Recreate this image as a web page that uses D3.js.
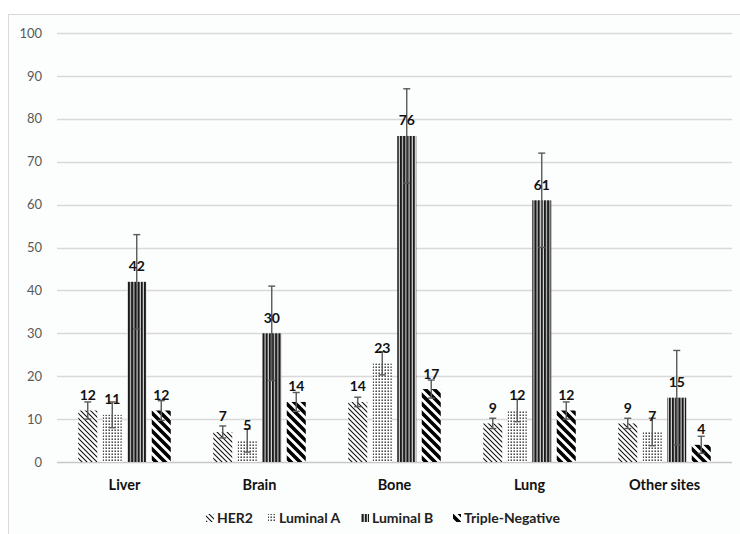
<!DOCTYPE html>
<html>
<head>
<meta charset="utf-8">
<script src="https://cdn.jsdelivr.net/npm/d3@7"></script>
<style>
  html, body { margin: 0; padding: 0; background: #ffffff; }
  svg { display: block; }
</style>
</head>
<body>
<div id="chart"></div>
<script>
// ---- Data ----
const categories = ["Liver", "Brain", "Bone", "Lung", "Other sites"];
const seriesNames = ["HER2", "Luminal A", "Luminal B", "Triple-Negative"];
const her2Values = [12, 7, 14, 9, 9];
const luminalAValues = [11, 5, 23, 12, 7];
const luminalBValues = [42, 30, 76, 61, 15];
const tripleNegValues = [12, 14, 17, 12, 4];
const her2Err = [2, 1.4, 1.1, 1.2, 1.2];
const luminalAErr = [3, 2.7, 2.7, 2.6, 3.2];
const luminalBErr = [11, 11, 11, 11, 11];
const tripleNegErr = [2.3, 2.2, 2.1, 2, 2];
const yTicks = [0, 10, 20, 30, 40, 50, 60, 70, 80, 90, 100];

const seriesValues = [her2Values, luminalAValues, luminalBValues, tripleNegValues];
const seriesErrors = [her2Err, luminalAErr, luminalBErr, tripleNegErr];
const patternIds = ["pHer2", "pLumA", "pLumB", "pTN"];

const W = 740, H = 534;
const svg = d3.select("#chart").append("svg").attr("width", W).attr("height", H);

// patterns
const defs = svg.append("defs");
{
  const p = defs.append("pattern").attr("id", "pHer2").attr("patternUnits", "userSpaceOnUse")
    .attr("width", 5).attr("height", 5);
  p.append("rect").attr("width", 5).attr("height", 5).attr("fill", "#fff");
  p.append("path").attr("d", "M0,0 L5,5 M-1,4 L1,6 M4,-1 L6,1")
    .attr("stroke", "#111").attr("stroke-width", 1.1);
}
{
  const p = defs.append("pattern").attr("id", "pLumA").attr("patternUnits", "userSpaceOnUse")
    .attr("width", 3).attr("height", 3);
  p.append("rect").attr("width", 3).attr("height", 3).attr("fill", "#fff");
  p.append("rect").attr("x", 0.5).attr("y", 0.5).attr("width", 1.4).attr("height", 1.4).attr("fill", "#222");
}
{
  const p = defs.append("pattern").attr("id", "pLumB").attr("patternUnits", "userSpaceOnUse")
    .attr("width", 3.2).attr("height", 4);
  p.append("rect").attr("width", 3.2).attr("height", 4).attr("fill", "#ddd");
  p.append("rect").attr("x", 0).attr("width", 2.1).attr("height", 4).attr("fill", "#1a1a1a");
}
{
  const p = defs.append("pattern").attr("id", "pTN").attr("patternUnits", "userSpaceOnUse")
    .attr("width", 9).attr("height", 9);
  p.append("rect").attr("width", 9).attr("height", 9).attr("fill", "#fff");
  p.append("path").attr("d", "M0,0 L9,9 M-2,7 L2,11 M7,-2 L11,2")
    .attr("stroke", "#000").attr("stroke-width", 3.6);
}

// background + border
svg.append("rect").attr("x", 0).attr("y", 0).attr("width", W).attr("height", H).attr("fill", "#fff");
svg.append("rect").attr("x", 8.5).attr("y", 14.5).attr("width", 740).attr("height", 540)
  .attr("fill", "#fcfdfd").attr("stroke", "#d9d9d9").attr("stroke-width", 1);

const x0 = 57, x1 = 732, yTop = 33, yBot = 462;

const x = d3.scaleBand().domain(categories).range([x0, x1]).paddingInner(0).paddingOuter(0);
const y = d3.scaleLinear().domain([0, 100]).range([yBot, yTop]);

// gridlines
svg.append("g").selectAll("line").data(yTicks).join("line")
  .attr("x1", x0).attr("x2", x1)
  .attr("y1", d => Math.round(y(d)) + 0.5).attr("y2", d => Math.round(y(d)) + 0.5)
  .attr("stroke", d => d === 0 ? "#c8c8c8" : "#d9d9d9").attr("stroke-width", 1.3);

// y tick labels via axis
const yAxis = d3.axisLeft(y).tickValues(yTicks).tickSize(0).tickPadding(0);
const gy = svg.append("g").attr("transform", "translate(42,0)").call(yAxis);
gy.select(".domain").remove();
gy.selectAll("text").attr("font-family", "Lato, 'Open Sans', sans-serif").attr("font-size", 13)
  .attr("fill", "#595959");

// bars
const barW = 19, barStep = 24.5;
const groupW = barStep * 3 + barW;

categories.forEach((cat, ci) => {
  const gx = x(cat) + x.bandwidth() / 2 - groupW / 2;
  seriesNames.forEach((s, si) => {
    const v = seriesValues[si][ci];
    const e = seriesErrors[si][ci];
    const bx = gx + si * barStep;
    svg.append("rect")
      .attr("x", bx).attr("y", y(v)).attr("width", barW).attr("height", y(0) - y(v))
      .attr("fill", `url(#${patternIds[si]})`);
    const cx = bx + barW / 2;
    const eb = svg.append("g").attr("stroke", "#595959").attr("stroke-width", 1.4);
    eb.append("line").attr("x1", cx).attr("x2", cx).attr("y1", y(v + e)).attr("y2", y(v - e));
    eb.append("line").attr("x1", cx - 3.5).attr("x2", cx + 3.5).attr("y1", y(v + e)).attr("y2", y(v + e));
    eb.append("line").attr("x1", cx - 3.5).attr("x2", cx + 3.5).attr("y1", y(v - e)).attr("y2", y(v - e));
    svg.append("text").attr("x", cx).attr("y", y(v) - 10.5)
      .attr("text-anchor", "middle").attr("font-family", "Lato, 'Open Sans', sans-serif")
      .attr("font-weight", "bold").attr("font-size", 14).attr("fill", "#111").text(v);
  });
});

// category axis labels
const xAxis = d3.axisBottom(x).tickSize(0).tickPadding(0);
const gxa = svg.append("g").attr("transform", "translate(0,480)").call(xAxis);
gxa.select(".domain").remove();
gxa.selectAll("text").attr("font-family", "Lato, 'Open Sans', sans-serif").attr("font-size", 14.5)
  .attr("font-weight", "bold").attr("fill", "#111").attr("dy", "0.71em");

// legend
const legendX = [206, 268, 361, 453];
const legend = svg.append("g");
seriesNames.forEach((s, i) => {
  legend.append("rect").attr("x", legendX[i]).attr("y", 514).attr("width", 8).attr("height", 8)
    .attr("fill", `url(#${patternIds[i]})`);
  legend.append("text").attr("x", legendX[i] + 11).attr("y", 523)
    .attr("font-family", "Lato, 'Open Sans', sans-serif").attr("font-size", 14)
    .attr("font-weight", "bold").attr("fill", "#222").text(s);
});
</script>
</body>
</html>
